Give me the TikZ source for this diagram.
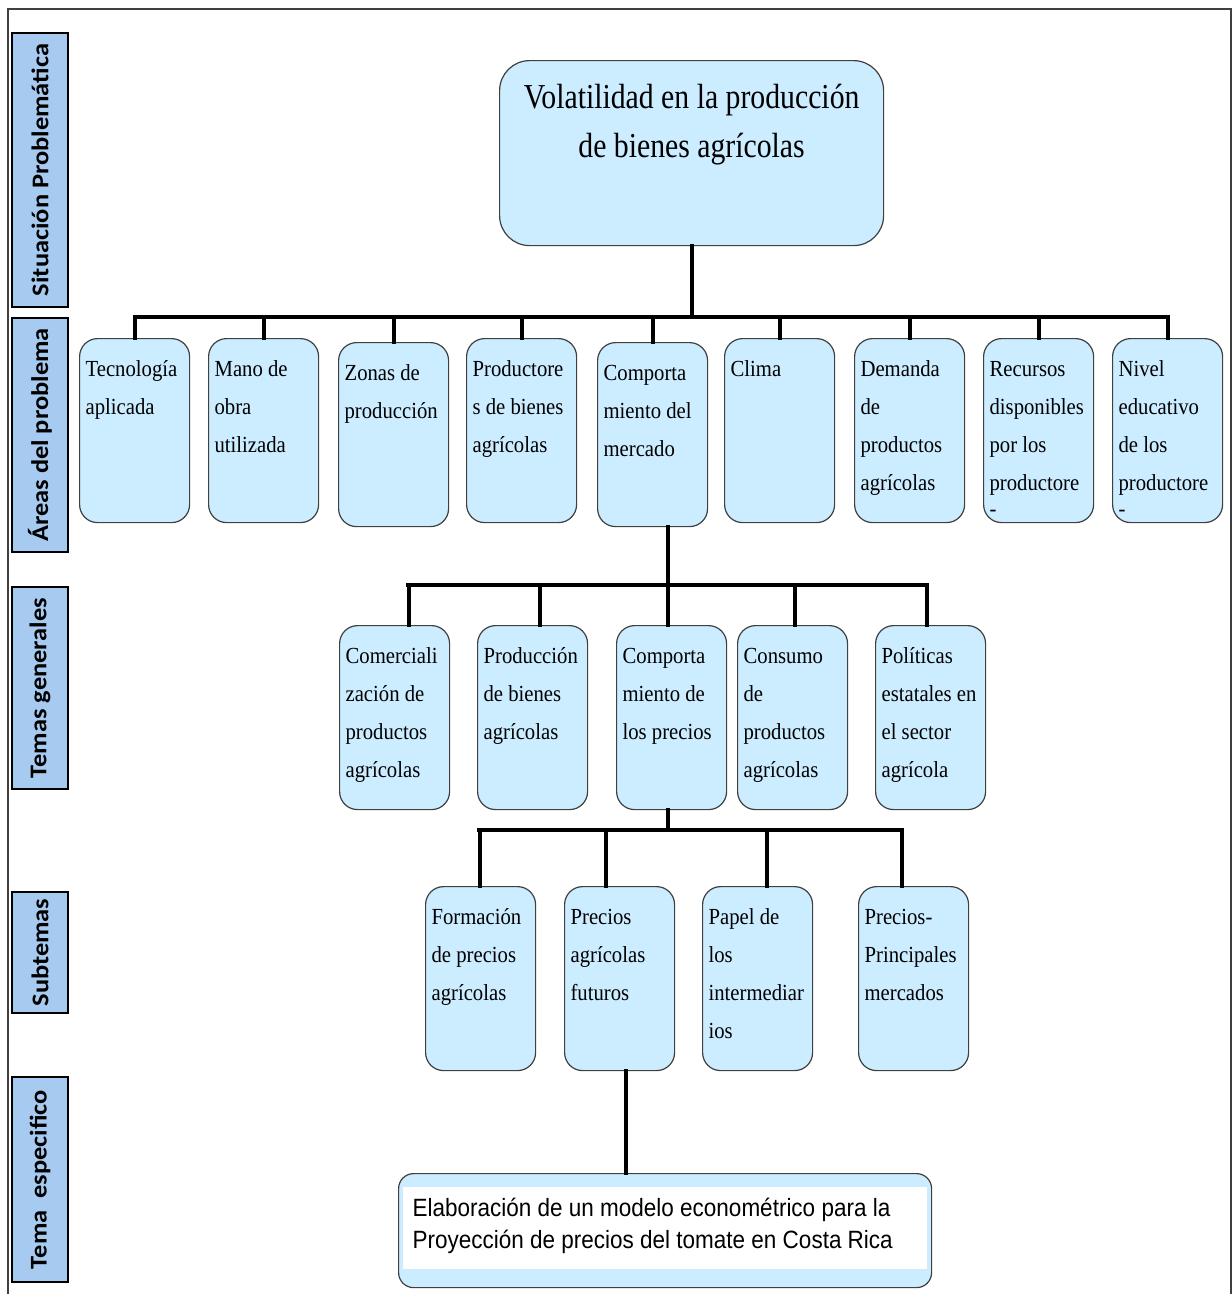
\documentclass[tikz,border=0pt]{standalone}
\usepackage{fontspec}
\setmainfont{Liberation Serif}
\newfontfamily\cellfont{Liberation Serif}[FakeStretch=0.9]
\newfontfamily\headfont{Liberation Serif}[FakeStretch=0.85]
\newfontfamily\sidefont{Carlito}[FakeStretch=1.1]
\newfontfamily\specfont{Liberation Sans}[FakeStretch=0.9]

\definecolor{boxblue}{RGB}{204,236,255}
\definecolor{sideblue}{RGB}{166,202,240}
\definecolor{rim}{RGB}{64,64,64}

% text of a small box, lines broken by hand
\newcommand{\celltext}[1]{\parbox[t][168pt][t]{98pt}{\cellfont\fontsize{23}{38}\selectfont\rule{0pt}{30pt}#1}}

\begin{document}
\begin{tikzpicture}[x=1pt, y=-1pt,
    cell/.style={draw=rim, line width=1.2pt, fill=boxblue, rounded corners=18pt,
        inner xsep=6pt, inner ysep=8pt, anchor=north west,
        minimum width=110pt, minimum height=184pt},
    side/.style={draw=black, line width=2pt, fill=sideblue, rotate=90, inner sep=0pt,
        minimum height=56pt, font=\sidefont\bfseries\fontsize{24}{24}\selectfont},
    conn/.style={line width=4pt, line cap=rect}]

        \useasboundingbox (0,0) rectangle (1232,1294);

        % Outer frame
        \draw[rim, line width=2pt] (8,1294) -- (8,9) -- (1231,9) -- (1231,1294);

        % Level labels on the left
        \node[side, minimum width=274pt] (s1) at (40,170) {Situación Problemática};
        \node[side, minimum width=234pt] (s2) at (40,435) {Áreas del problema};
        \node[side, minimum width=202pt] (s3) at (40,688) {Temas generales};
        \node[side, minimum width=121pt] (s4) at (40,952.5) {Subtemas};
        \node[side, minimum width=205pt] (s5) at (40,1179.5) {Tema~~especifico};

        % Problem situation
        \node[cell, minimum width=384pt, minimum height=185pt, rounded corners=30pt, inner xsep=7pt] (top) at (499,60)
            {\parbox[t][169pt][t]{370pt}{\centering\headfont\fontsize{35}{49}\selectfont\rule{0pt}{40pt}Volatilidad en la producción\\de bienes agrícolas}};

        % Areas of the problem
        \node[cell] (a1) at (79,338) {\celltext{Tecnología\\aplicada}};
        \node[cell] (a2) at (208,338) {\celltext{Mano de\\obra\\utilizada}};
        \node[cell] (a3) at (338,342) {\celltext{Zonas de\\producción}};
        \node[cell] (a4) at (466,338) {\celltext{Productore\\s de bienes\\agrícolas}};
        \node[cell] (a5) at (597,342) {\celltext{Comporta\\miento del\\mercado}};
        \node[cell] (a6) at (724,338) {\celltext{Clima}};
        \node[cell] (a7) at (854,338) {\celltext{Demanda\\de\\productos\\agrícolas}};
        \node[cell] (a8) at (983,338) {\celltext{Recursos\\disponibles\\por los\\productore\\[-12pt]-}};
        \node[cell] (a9) at (1112,338) {\celltext{Nivel\\educativo\\de los\\productore\\[-12pt]-}};

        % General topics
        \node[cell] (b1) at (339,625) {\celltext{Comerciali\\zación de\\productos\\agrícolas}};
        \node[cell] (b2) at (477,625) {\celltext{Producción\\de bienes\\agrícolas}};
        \node[cell] (b3) at (616,625) {\celltext{Comporta\\miento de\\los precios}};
        \node[cell] (b4) at (737,625) {\celltext{Consumo\\de\\productos\\agrícolas}};
        \node[cell] (b5) at (875,625) {\celltext{Políticas\\estatales en\\el sector\\agrícola}};

        % Subtopics
        \node[cell] (c1) at (425,886) {\celltext{Formación\\de precios\\agrícolas}};
        \node[cell] (c2) at (564,886) {\celltext{Precios\\agrícolas\\futuros}};
        \node[cell] (c3) at (702,886) {\celltext{Papel de\\los\\intermediar\\ios}};
        \node[cell] (c4) at (858,886) {\celltext{Precios-\\Principales\\mercados}};

        % Specific topic (white inside, blue rim)
        \node[cell, minimum width=533pt, minimum height=114pt, rounded corners=15pt, inner xsep=14pt,
            path picture={\fill[white, sharp corners] ([xshift=4pt,yshift=-13pt]path picture bounding box.north west)
                rectangle ([xshift=-5pt,yshift=19pt]path picture bounding box.south east);}] (spec) at (398,1173)
            {\parbox[t][98pt][t]{505pt}{\specfont\fontsize{25}{32}\selectfont\rule{0pt}{35pt}Elaboración de un modelo econométrico para la\\Proyección de precios del tomate en Costa Rica}};

        % Bars between the levels
        \coordinate (bar1l) at (135,317);
        \coordinate (bar1r) at (1168,317);
        \coordinate (bar2l) at (408,585);
        \coordinate (bar2r) at (926,585);
        \coordinate (bar3l) at (479,830);
        \coordinate (bar3r) at (901,830);

        % Situation to areas
        \draw[conn] (top.south) -- (top.south |- bar1l);
        \draw[conn] (bar1l) -- (bar1r);
        \draw[conn] (a1.north) -- (a1.north |- bar1l);
        \draw[conn] (a2.north) -- (a2.north |- bar1l);
        \draw[conn] (a3.north) -- (a3.north |- bar1l);
        \draw[conn] (a4.north) -- (a4.north |- bar1l);
        \draw[conn] (a5.north) -- (a5.north |- bar1l);
        \draw[conn] (a6.north) -- (a6.north |- bar1l);
        \draw[conn] (a7.north) -- (a7.north |- bar1l);
        \draw[conn] (a8.north) -- (a8.north |- bar1l);
        \draw[conn] (a9.north) -- (a9.north |- bar1l);

        % Market behaviour to general topics
        \draw[conn] ([xshift=15pt]a5.south) -- ([xshift=15pt]a5.south |- bar2l);
        \draw[conn] (bar2l) -- (bar2r);
        \draw[conn] ([xshift=14pt]b1.north) -- ([xshift=14pt]b1.north |- bar2l);
        \draw[conn] ([xshift=7pt]b2.north) -- ([xshift=7pt]b2.north |- bar2l);
        \draw[conn] ([xshift=-4pt]b3.north) -- ([xshift=-4pt]b3.north |- bar2l);
        \draw[conn] ([xshift=2pt]b4.north) -- ([xshift=2pt]b4.north |- bar2l);
        \draw[conn] ([xshift=-4pt]b5.north) -- ([xshift=-4pt]b5.north |- bar2l);

        % Price behaviour to subtopics
        \draw[conn] ([xshift=-4pt]b3.south) -- ([xshift=-4pt]b3.south |- bar3l);
        \draw[conn] (bar3l) -- (bar3r);
        \draw[conn] ([xshift=-1pt]c1.north) -- ([xshift=-1pt]c1.north |- bar3l);
        \draw[conn] ([xshift=-14pt]c2.north) -- ([xshift=-14pt]c2.north |- bar3l);
        \draw[conn] ([xshift=9pt]c3.north) -- ([xshift=9pt]c3.north |- bar3l);
        \draw[conn] ([xshift=-12pt]c4.north) -- ([xshift=-12pt]c4.north |- bar3l);

        % Future prices to the specific topic
        \draw[conn] ([xshift=6pt]c2.south) -- ([xshift=6pt]c2.south |- spec.north);

\end{tikzpicture}
\end{document}
